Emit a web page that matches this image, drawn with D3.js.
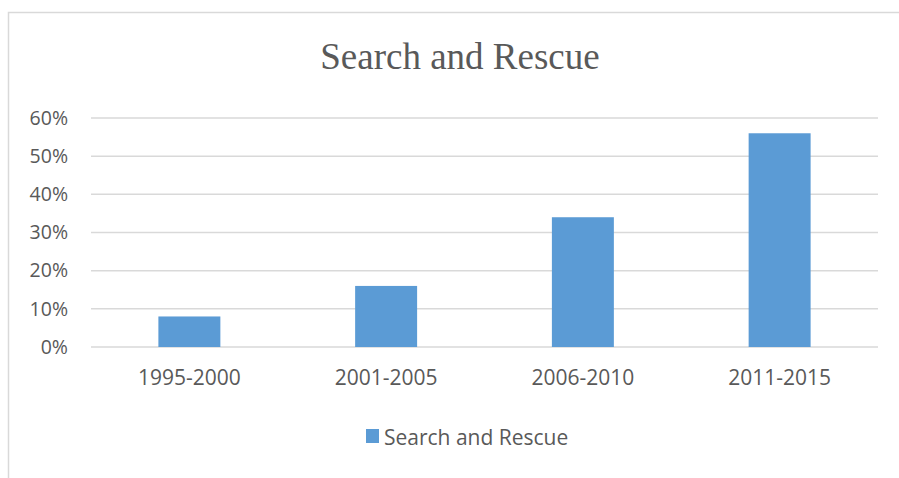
<!DOCTYPE html>
<html>
<head>
<meta charset="utf-8">
<script src="https://cdn.jsdelivr.net/npm/d3@7"></script>
<style>
  body { margin: 0; background: #fff; overflow: hidden; }
  svg { display: block; }
</style>
</head>
<body>
<div id="chart"></div>
<script>
const periods = ["1995-2000", "2001-2005", "2006-2010", "2011-2015"];
const shares = [0.08, 0.16, 0.34, 0.56];
const yTicks = [0, 0.1, 0.2, 0.3, 0.4, 0.5, 0.6];
const seriesName = "Search and Rescue";

const W = 899, H = 478;
const margin = { top: 118, right: 21, bottom: 131, left: 91 },
      width = W - margin.left - margin.right,
      height = H - margin.top - margin.bottom;

const svg = d3.select("#chart")
  .append("svg")
  .attr("width", W)
  .attr("height", H);

// chart area border (only top and left edges are in view)
svg.append("rect")
  .attr("x", 8.5)
  .attr("y", 12.5)
  .attr("width", W + 60)
  .attr("height", H + 60)
  .attr("fill", "none")
  .attr("stroke", "#d9d9d9")
  .attr("stroke-width", 1.5);

svg.append("text")
  .attr("x", 460)
  .attr("y", 69)
  .attr("text-anchor", "middle")
  .style("font-family", "'Liberation Serif', serif")
  .style("font-size", "37px")
  .style("fill", "#595959")
  .text(seriesName);

const g = svg.append("g")
  .attr("transform", `translate(${margin.left},${margin.top})`);

const x = d3.scaleBand()
  .domain(periods)
  .range([0, width])
  .paddingInner(0.685)
  .paddingOuter(0.3425);

const y = d3.scaleLinear()
  .domain([0, 0.6])
  .range([height, 0]);

// gridlines
g.selectAll(".grid")
  .data(yTicks)
  .join("line")
  .attr("class", "grid")
  .attr("x1", 0)
  .attr("x2", width)
  .attr("y1", d => y(d))
  .attr("y2", d => y(d))
  .attr("stroke", "#d9d9d9")
  .attr("stroke-width", 1.5);

const yAxis = g.append("g")
  .call(d3.axisLeft(y).tickValues(yTicks).tickFormat(d3.format(".0%")).tickSize(0).tickPadding(23));
yAxis.select(".domain").remove();
yAxis.selectAll("text")
  .style("font-family", "'Open Sans', sans-serif")
  .style("font-size", "19.5px")
  .style("fill", "#595959");

g.selectAll(".bar")
  .data(periods)
  .join("rect")
  .attr("class", "bar")
  .attr("x", d => x(d))
  .attr("width", x.bandwidth())
  .attr("y", (d, i) => y(shares[i]))
  .attr("height", (d, i) => height - y(shares[i]))
  .attr("fill", "#5b9bd5");

const xAxis = g.append("g")
  .attr("transform", `translate(0,${height})`)
  .call(d3.axisBottom(x).tickSize(0).tickPadding(23));
xAxis.select(".domain").remove();
xAxis.selectAll("text")
  .style("font-family", "'Open Sans', sans-serif")
  .style("font-size", "21px")
  .style("fill", "#595959");

// legend
const legend = svg.append("g").attr("transform", "translate(366,429)");
legend.append("rect")
  .attr("width", 13)
  .attr("height", 14)
  .attr("fill", "#5b9bd5");
legend.append("text")
  .attr("x", 18)
  .attr("y", 15.5)
  .style("font-family", "'Open Sans', sans-serif")
  .style("font-size", "21px")
  .style("fill", "#595959")
  .text(seriesName);
</script>
</body>
</html>
